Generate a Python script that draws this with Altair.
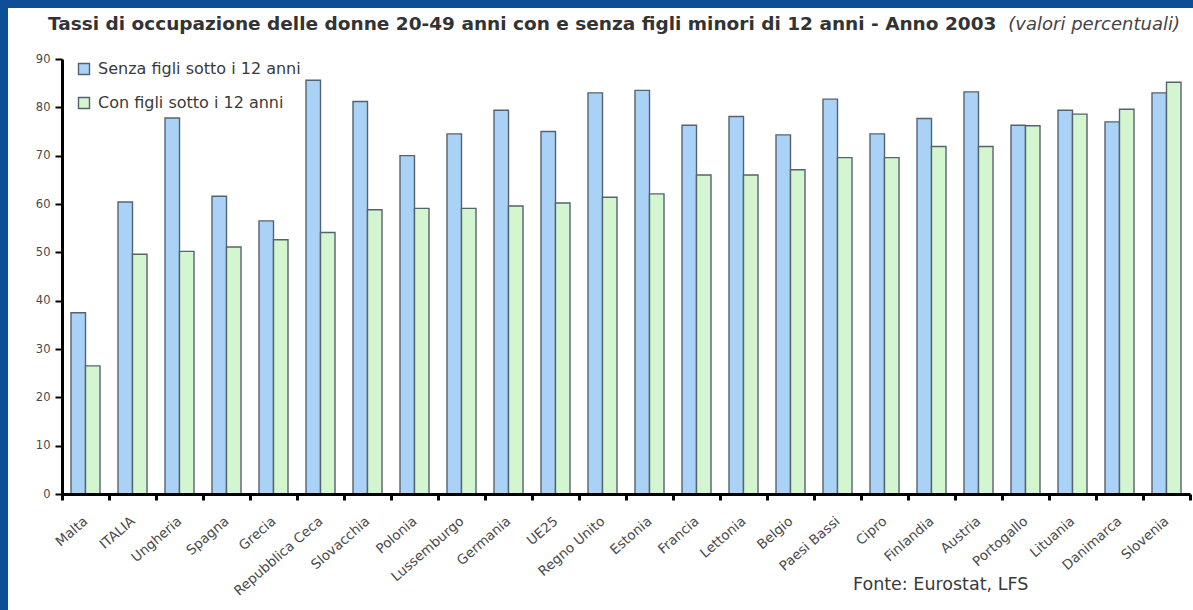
import altair as alt
import pandas as pd

# Occupazione femminile 20-49 anni, 2003 (valori percentuali)
paesi = ["Malta", "ITALIA", "Ungheria", "Spagna", "Grecia", "Repubblica Ceca",
         "Slovacchia", "Polonia", "Lussemburgo", "Germania", "UE25", "Regno Unito",
         "Estonia", "Francia", "Lettonia", "Belgio", "Paesi Bassi", "Cipro",
         "Finlandia", "Austria", "Portogallo", "Lituania", "Danimarca", "Slovenia"]
senza_figli = [37.5, 60.4, 77.8, 61.6, 56.5, 85.6, 81.2, 70.0, 74.5, 79.4, 75.0, 83.0,
               83.5, 76.3, 78.1, 74.3, 81.7, 74.5, 77.7, 83.2, 76.3, 79.4, 77.0, 83.0]
con_figli = [26.5, 49.6, 50.2, 51.1, 52.6, 54.1, 58.8, 59.1, 59.1, 59.6, 60.2, 61.4,
             62.1, 66.0, 66.0, 67.1, 69.6, 69.6, 71.9, 71.9, 76.2, 78.6, 79.6, 85.2]
serie = ["Senza figli sotto i 12 anni", "Con figli sotto i 12 anni"]
colori = ["#aad2f6", "#d3f6d1"]
y_ticks = [0, 10, 20, 30, 40, 50, 60, 70, 80, 90]

titolo = "Tassi di occupazione delle donne 20-49 anni con e senza figli minori di 12 anni - Anno 2003"
sottotitolo = "(valori percentuali)"
fonte = "Fonte: Eurostat, LFS"

righe = []
for i, p in enumerate(paesi):
    righe.append({"paese": p, "serie": serie[0], "valore": senza_figli[i]})
    righe.append({"paese": p, "serie": serie[1], "valore": con_figli[i]})
df = pd.DataFrame(righe)

FONT = "DejaVu Sans"
W, H = 1128, 435

one = pd.DataFrame({"k": [0]})

# white slide panel behind the chart
panel = alt.Chart(one).mark_rect(color="white").encode(
    x=alt.value(-54), x2=alt.value(W + 3), y=alt.value(-51), y2=alt.value(H + 116)
)

bars = alt.Chart(df).mark_bar(stroke="#56636f", strokeWidth=1.4).encode(
    x=alt.X("paese:N", sort=paesi, title=None,
            scale=alt.Scale(paddingInner=0, paddingOuter=0),
            axis=alt.Axis(tickBand="extent", labelAngle=-41, labelAlign="right",
                          labelBaseline="middle", labelFontSize=13.5, labelColor="#4a4a4a",
                          labelPadding=19, tickSize=6, tickWidth=3, tickColor="black",
                          domainColor="black", domainWidth=3, labelFont=FONT, zindex=1)),
    xOffset=alt.XOffset("serie:N", sort=serie,
                        scale=alt.Scale(paddingOuter=0.62, paddingInner=0)),
    y=alt.Y("valore:Q", title=None,
            scale=alt.Scale(domain=[0, 90], nice=False),
            axis=alt.Axis(values=y_ticks, grid=False, labelFontSize=11.5, labelColor="#4a4a4a",
                          labelPadding=5, tickSize=7, tickWidth=2, tickColor="black",
                          domainColor="black", domainWidth=3, labelFont=FONT, zindex=1)),
    color=alt.Color("serie:N", sort=serie,
                    scale=alt.Scale(domain=serie, range=colori),
                    legend=alt.Legend(title=None, orient="none", legendX=14, legendY=2,
                                      symbolType="square", symbolSize=121,
                                      symbolStrokeColor="#56636f", symbolStrokeWidth=1.4,
                                      labelFontSize=16, labelColor="#3a3a3a", labelFont=FONT,
                                      labelLimit=400, rowPadding=16, labelOffset=6)),
)

title_main = alt.Chart(one).mark_text(
    text=titolo, font=FONT, fontSize=18.5, fontWeight="bold", color="#333333",
    align="left", baseline="alphabetic"
).encode(x=alt.value(-14), y=alt.value(-29))

title_note = alt.Chart(one).mark_text(
    text=sottotitolo, font=FONT, fontSize=18, fontStyle="italic", color="#444444",
    align="right", baseline="alphabetic"
).encode(x=alt.value(1118), y=alt.value(-29))

source = alt.Chart(one).mark_text(
    text=fonte, font=FONT, fontSize=17.5, color="#3a3a3a",
    align="left", baseline="middle"
).encode(x=alt.value(791), y=alt.value(H + 91))

chart = alt.layer(panel, bars, title_main, title_note, source).properties(
    width=W, height=H,
    autosize=alt.AutoSizeParams(type="none"),
    padding={"left": 62, "top": 59, "right": 3, "bottom": 116},
).configure(background="#0e4d98").configure_view(stroke=None)

chart.save("out.html", embed_options={"renderer": "svg", "actions": False})
